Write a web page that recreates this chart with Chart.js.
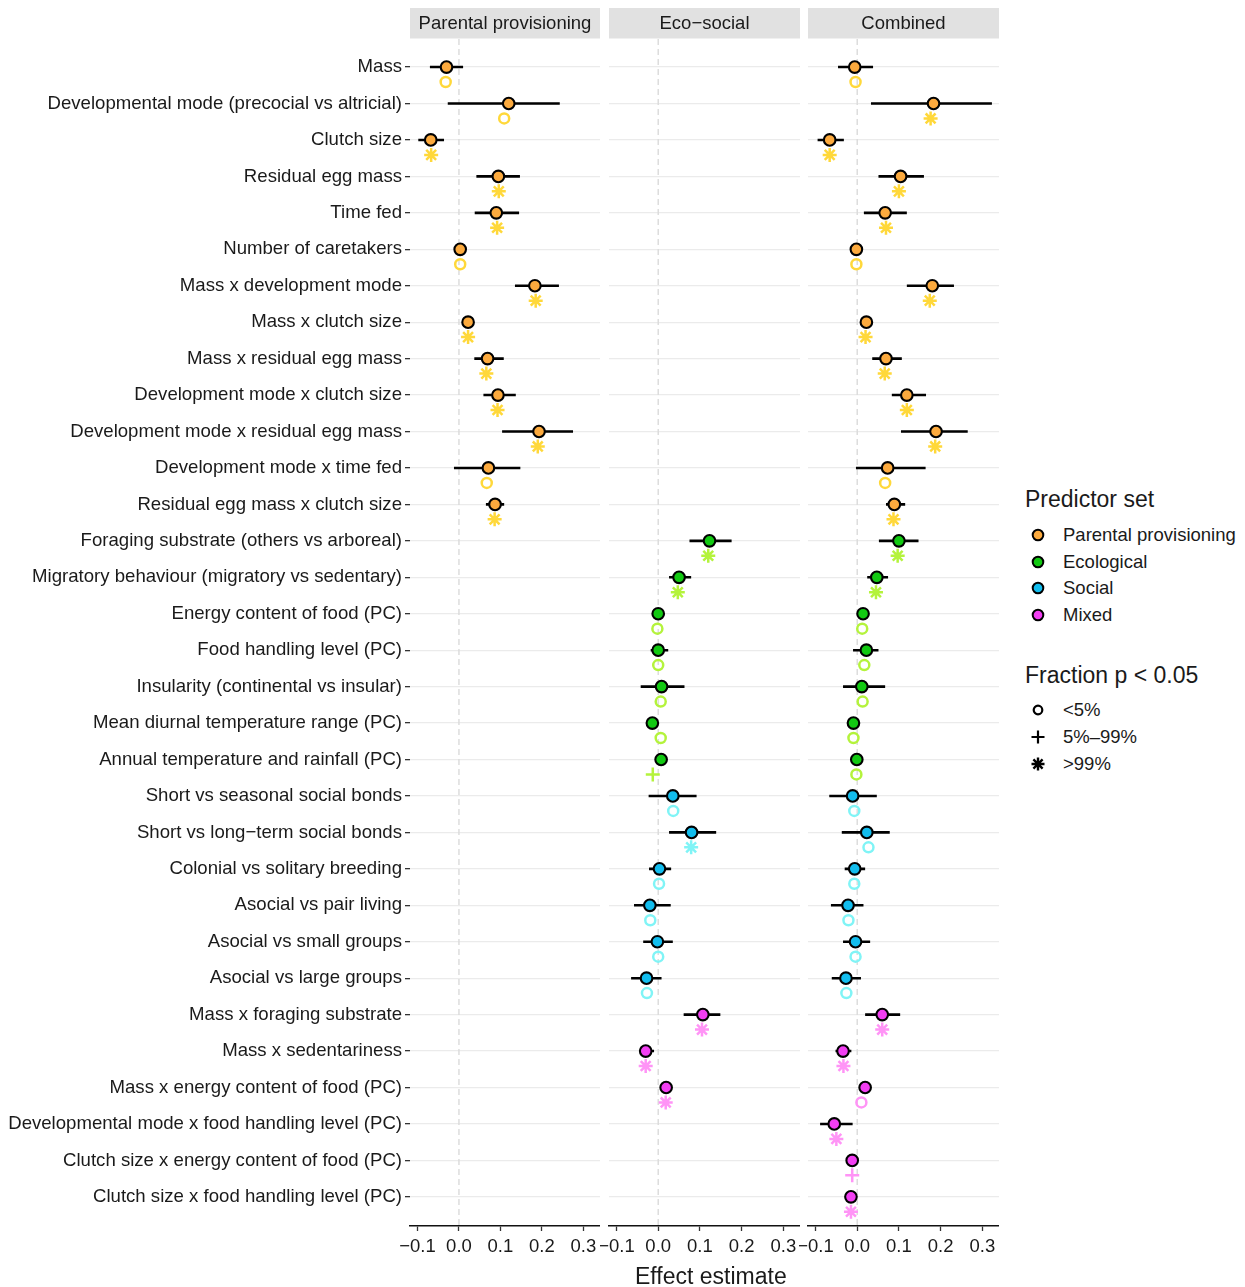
<!DOCTYPE html>
<html>
<head>
<meta charset="utf-8">
<script src="https://cdn.jsdelivr.net/npm/chart.js@4.4.1/dist/chart.umd.min.js"></script>
<style>
  body { margin:0; background:#fff; width:1245px; height:1287px; position:relative; overflow:hidden;
         font-family:"Liberation Sans", Arial, Helvetica, sans-serif; color:#1a1a1a; }
  canvas { position:absolute; top:0; }
  .ttl { position:absolute; font-size:23px; line-height:26px; white-space:nowrap; }
  .item { position:absolute; font-size:18.5px; line-height:22px; white-space:nowrap; }
  .mk { position:absolute; width:16px; height:16px; }
</style>
</head>
<body>
<canvas id="p1" width="600" height="1287" style="left:0px"></canvas>
<canvas id="p2" width="200" height="1287" style="left:600px"></canvas>
<canvas id="p3" width="200" height="1287" style="left:799px"></canvas>

<div class="ttl" style="left:635px; top:1263px;">Effect estimate</div>

<div class="ttl" style="left:1025px; top:486px;">Predictor set</div>
<div id="legendSets"></div>
<div class="ttl" style="left:1025px; top:662px;">Fraction p &lt; 0.05</div>
<div id="legendSig"></div>

<script>
// Predictor rows, top to bottom
const predictors = [
  "Mass",
  "Developmental mode (precocial vs altricial)",
  "Clutch size",
  "Residual egg mass",
  "Time fed",
  "Number of caretakers",
  "Mass x development mode",
  "Mass x clutch size",
  "Mass x residual egg mass",
  "Development mode x clutch size",
  "Development mode x residual egg mass",
  "Development mode x time fed",
  "Residual egg mass x clutch size",
  "Foraging substrate (others vs arboreal)",
  "Migratory behaviour (migratory vs sedentary)",
  "Energy content of food (PC)",
  "Food handling level (PC)",
  "Insularity (continental vs insular)",
  "Mean diurnal temperature range (PC)",
  "Annual temperature and rainfall (PC)",
  "Short vs seasonal social bonds",
  "Short vs long\u2212term social bonds",
  "Colonial vs solitary breeding",
  "Asocial vs pair living",
  "Asocial vs small groups",
  "Asocial vs large groups",
  "Mass x foraging substrate",
  "Mass x sedentariness",
  "Mass x energy content of food (PC)",
  "Developmental mode x food handling level (PC)",
  "Clutch size x energy content of food (PC)",
  "Clutch size x food handling level (PC)"
];

// Predictor set of each row
const predictorSet = [
  "Parental provisioning","Parental provisioning","Parental provisioning","Parental provisioning",
  "Parental provisioning","Parental provisioning","Parental provisioning","Parental provisioning",
  "Parental provisioning","Parental provisioning","Parental provisioning","Parental provisioning",
  "Parental provisioning",
  "Ecological","Ecological","Ecological","Ecological","Ecological","Ecological","Ecological",
  "Social","Social","Social","Social","Social","Social",
  "Mixed","Mixed","Mixed","Mixed","Mixed","Mixed"
];

const setNames = ["Parental provisioning", "Ecological", "Social", "Mixed"];
const sigClasses = ["<5%", "5%\u201399%", ">99%"];

const panelTitles = ["Parental provisioning", "Eco\u2212social", "Combined"];

const xTicks = [-0.1, 0.0, 0.1, 0.2, 0.3];
const xTickLabels = ["\u22120.1", "0.0", "0.1", "0.2", "0.3"];

// Panel 1: parental provisioning model (rows 0-12)
const ppEst  = [-0.030, 0.120, -0.068, 0.095, 0.090, 0.003, 0.183, 0.022, 0.069, 0.094, 0.193, 0.071, 0.087];
const ppLo   = [-0.070, -0.027, -0.098, 0.042, 0.038, -0.001, 0.135, 0.011, 0.037, 0.059, 0.104, -0.012, 0.065];
const ppHi   = [ 0.010, 0.243, -0.036, 0.147, 0.145, 0.007, 0.241, 0.036, 0.108, 0.137, 0.275, 0.148, 0.109];
const ppSigX = [-0.032, 0.109, -0.067, 0.096, 0.092, 0.003, 0.185, 0.022, 0.066, 0.093, 0.190, 0.067, 0.086];
const ppSig  = ["<5%", "<5%", ">99%", ">99%", ">99%", "<5%", ">99%", ">99%", ">99%", ">99%", ">99%", "<5%", ">99%"];

// Panel 2: eco-social model (rows 13-28)
const esFirstRow = 13;
const esEst  = [0.123, 0.050, 0.000, 0.000, 0.008, -0.014, 0.007, 0.035, 0.080, 0.003, -0.020, -0.002, -0.028, 0.107, -0.030, 0.019];
const esLo   = [0.075, 0.026, -0.004, -0.018, -0.042, -0.018, 0.003, -0.023, 0.026, -0.022, -0.058, -0.036, -0.065, 0.061, -0.046, 0.015];
const esHi   = [0.176, 0.079, 0.004, 0.024, 0.063, -0.010, 0.011, 0.092, 0.139, 0.031, 0.030, 0.035, 0.008, 0.149, -0.010, 0.023];
const esSigX = [0.120, 0.047, -0.002, 0.000, 0.006, 0.006, -0.013, 0.036, 0.079, 0.002, -0.019, 0.000, -0.027, 0.105, -0.030, 0.018];
const esSig  = [">99%", ">99%", "<5%", "<5%", "<5%", "<5%", "5%\u201399%", "<5%", ">99%", "<5%", "<5%", "<5%", "<5%", ">99%", ">99%", ">99%"];

// Panel 3: combined model (all rows)
const cbEst  = [-0.006, 0.183, -0.066, 0.104, 0.067, -0.002, 0.180, 0.022, 0.069, 0.119, 0.189, 0.073, 0.089,
                 0.100, 0.047, 0.014, 0.022, 0.011, -0.009, -0.001,
                -0.011, 0.023, -0.006, -0.022, -0.004, -0.027,
                 0.060, -0.034, 0.019, -0.055, -0.012, -0.015];
const cbLo   = [-0.046, 0.033, -0.095, 0.051, 0.016, -0.006, 0.119, 0.007, 0.036, 0.083, 0.105, -0.003, 0.069,
                 0.052, 0.024, 0.010, -0.010, -0.034, -0.013, -0.005,
                -0.067, -0.037, -0.030, -0.063, -0.034, -0.061,
                 0.019, -0.052, 0.015, -0.089, -0.016, -0.019];
const cbHi   = [ 0.038, 0.323, -0.032, 0.160, 0.119, 0.002, 0.232, 0.036, 0.107, 0.165, 0.265, 0.164, 0.115,
                 0.147, 0.074, 0.018, 0.051, 0.067, -0.005, 0.003,
                 0.047, 0.078, 0.019, 0.015, 0.031, 0.009,
                 0.103, -0.014, 0.023, -0.011, -0.008, -0.011];
const cbSigX = [-0.004, 0.176, -0.066, 0.100, 0.069, -0.002, 0.174, 0.020, 0.066, 0.119, 0.187, 0.067, 0.087,
                 0.097, 0.045, 0.012, 0.017, 0.013, -0.009, -0.002,
                -0.007, 0.027, -0.007, -0.021, -0.004, -0.026,
                 0.060, -0.033, 0.010, -0.050, -0.012, -0.015];
const cbSig  = ["<5%", ">99%", ">99%", ">99%", ">99%", "<5%", ">99%", ">99%", ">99%", ">99%", ">99%", "<5%", ">99%",
                ">99%", ">99%", "<5%", "<5%", "<5%", "<5%", "<5%",
                "<5%", "<5%", "<5%", "<5%", "<5%", "<5%",
                ">99%", ">99%", "<5%", ">99%", "5%\u201399%", ">99%"];

// ---- styling ----
const FONT = '"Liberation Sans", Arial, Helvetica, sans-serif';
const fillColor = { "Parental provisioning": "#fcaa3e", "Ecological": "#12c912", "Social": "#12bdee", "Mixed": "#f23ef2" };
const sigColor  = { "Parental provisioning": "#ffd83a", "Ecological": "#b4f33c", "Social": "#80f4f6", "Mixed": "#ff94f6" };
const sigStyle  = { "<5%": "circle", "5%\u201399%": "cross", ">99%": "star" };
const sigRadius = { "<5%": 5.0, "5%\u201399%": 7, ">99%": 7 };
const Y_MIN = -0.77, Y_MAX = 31.8, X_MIN = -0.118, X_MAX = 0.34;
const SIG_OFFSET = 0.41;

function padRows(first, arr) {
  const out = new Array(predictors.length).fill(null);
  arr.forEach((v, k) => { out[first + k] = v; });
  return out;
}

const stripPlugin = {
  id: 'strip',
  afterDraw(chart, args, opts) {
    const { ctx, chartArea } = chart;
    ctx.save();
    ctx.fillStyle = '#e1e1e1';
    ctx.fillRect(chartArea.left, 8, chartArea.right - chartArea.left, 30.5);
    ctx.fillStyle = '#1a1a1a';
    ctx.font = '18.5px ' + FONT;
    ctx.textAlign = 'center';
    ctx.textBaseline = 'middle';
    ctx.fillText(opts.text, (chartArea.left + chartArea.right) / 2, 23.5);
    ctx.restore();
  }
};

function makePanel(id, title, est, lo, hi, sigX, sig, showLabels, axisWidth) {
  const pts = [], ptCol = [];
  const sigPts = [], sCol = [], sSty = [], sRad = [];
  const bars = [];
  est.forEach((v, i) => {
    if (v === null) return;
    pts.push({ x: v, y: i });
    ptCol.push(fillColor[predictorSet[i]]);
    bars.push({ x: lo[i], y: i }, { x: hi[i], y: i }, { x: null, y: null });
    sigPts.push({ x: sigX[i], y: i + SIG_OFFSET });
    sCol.push(sigColor[predictorSet[i]]);
    sSty.push(sigStyle[sig[i]]);
    sRad.push(sigRadius[sig[i]]);
  });

  return new Chart(document.getElementById(id), {
    type: 'scatter',
    data: {
      datasets: [
        { data: pts, order: 0, pointStyle: 'circle', pointRadius: 5.8, pointHoverRadius: 5.8,
          backgroundColor: ptCol, borderColor: '#000', borderWidth: 2.1 },
        { data: sigPts, order: 1, pointStyle: sSty, pointRadius: sRad, pointHoverRadius: sRad,
          backgroundColor: 'rgba(0,0,0,0)', borderColor: sCol, borderWidth: 2.5 },
        { data: bars, order: 2, showLine: true, spanGaps: false, pointRadius: 0,
          borderColor: '#000', borderWidth: 2.6, borderCapStyle: 'butt' },
        { data: [{ x: 0, y: Y_MIN }, { x: 0, y: Y_MAX }], order: 3, showLine: true, pointRadius: 0,
          borderColor: '#dadada', borderWidth: 1.4, borderDash: [6, 4] }
      ]
    },
    options: {
      responsive: false,
      animation: false,
      devicePixelRatio: 1,
      events: [],
      layout: { autoPadding: false, padding: { top: 39, left: 0, right: 0, bottom: 0 } },
      plugins: { legend: { display: false }, tooltip: { enabled: false }, strip: { text: title } },
      scales: {
        x: {
          type: 'linear', min: X_MIN, max: X_MAX,
          afterBuildTicks: s => { s.ticks = xTicks.map(v => ({ value: v })); },
          afterFit: s => { s.height = 61; s.paddingLeft = 0; s.paddingRight = 0; },
          ticks: { autoSkip: false, maxRotation: 0, padding: 5, color: '#1a1a1a',
                   font: { family: FONT, size: 18.5 },
                   callback: v => xTickLabels[xTicks.findIndex(t => Math.abs(t - v) < 1e-9)] },
          grid: { drawOnChartArea: false, drawTicks: true, tickLength: 5, tickColor: '#333', tickWidth: 1.3 },
          border: { display: true, color: '#111', width: 1.6 }
        },
        y: {
          type: 'linear', reverse: true, min: Y_MIN, max: Y_MAX,
          afterBuildTicks: s => { s.ticks = predictors.map((_, i) => ({ value: i })); },
          afterFit: s => { s.width = axisWidth; s.paddingTop = 0; s.paddingBottom = 0; },
          ticks: { autoSkip: false, padding: 3, color: '#1a1a1a',
                   font: { family: FONT, size: 18.6 },
                   callback: v => showLabels ? predictors[v] : '' },
          grid: { color: '#ebebeb', lineWidth: 1.3, drawTicks: showLabels, tickLength: 5,
                  tickColor: '#333', tickWidth: 1.3 },
          border: { display: false }
        }
      }
    },
    plugins: [stripPlugin]
  });
}

makePanel('p1', panelTitles[0], padRows(0, ppEst), padRows(0, ppLo), padRows(0, ppHi),
          padRows(0, ppSigX), padRows(0, ppSig), true, 410);
makePanel('p2', panelTitles[1], padRows(esFirstRow, esEst), padRows(esFirstRow, esLo), padRows(esFirstRow, esHi),
          padRows(esFirstRow, esSigX), padRows(esFirstRow, esSig), false, 9);
makePanel('p3', panelTitles[2], cbEst, cbLo, cbHi, cbSigX, cbSig, false, 9);

// ---- legends ----
function svgMarker(kind, fill) {
  if (kind === 'fill')
    return `<svg class="mk" viewBox="0 0 16 16"><circle cx="8" cy="8" r="5.3" fill="${fill}" stroke="#000" stroke-width="2"/></svg>`;
  if (kind === 'circle')
    return `<svg class="mk" viewBox="0 0 16 16"><circle cx="8" cy="8" r="4.3" fill="none" stroke="#000" stroke-width="2.2"/></svg>`;
  if (kind === 'cross')
    return `<svg class="mk" viewBox="0 0 16 16"><path d="M8 1.5V14.5M1.5 8H14.5" stroke="#000" stroke-width="2.2"/></svg>`;
  return `<svg class="mk" viewBox="0 0 16 16"><path d="M8 1.5V14.5M1.5 8H14.5M3.4 3.4L12.6 12.6M3.4 12.6L12.6 3.4" stroke="#000" stroke-width="2.4"/></svg>`;
}
const setY = [535, 562, 588, 615];
let html = '';
setNames.forEach((n, k) => {
  html += `<div style="position:absolute;left:1030px;top:${setY[k] - 8}px">${svgMarker('fill', fillColor[n])}</div>`;
  html += `<div class="item" style="left:1063px;top:${setY[k] - 11}px">${n}</div>`;
});
document.getElementById('legendSets').innerHTML = html;

const sigY = [710, 737, 764];
html = '';
sigClasses.forEach((c, k) => {
  html += `<div style="position:absolute;left:1030px;top:${sigY[k] - 8}px">${svgMarker(sigStyle[c])}</div>`;
  html += `<div class="item" style="left:1063px;top:${sigY[k] - 11}px">${c.replace('<', '&lt;').replace('>', '&gt;')}</div>`;
});
document.getElementById('legendSig').innerHTML = html;
</script>
</body>
</html>
